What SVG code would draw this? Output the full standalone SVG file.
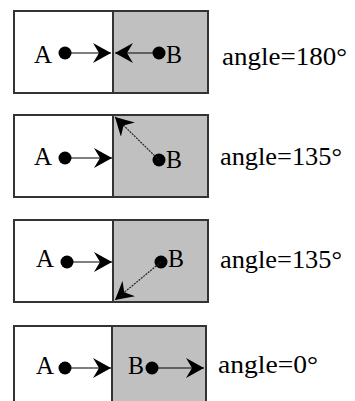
<svg xmlns="http://www.w3.org/2000/svg" width="355" height="401" viewBox="0 0 355 401">
<style>
.box{stroke:#333;stroke-width:2}
.l{fill:#fff}
.r{fill:#c0c0c0}
.t{font-family:"Liberation Serif","Times New Roman",serif;font-size:26px;fill:#000}
.dot{fill:#000}
.c{stroke:#000;stroke-width:1.2;fill:none;marker-end:url(#ah)}
.d{stroke:#222;stroke-width:1.2;stroke-dasharray:2,1;fill:none;marker-end:url(#ah)}
</style>
<defs>
<marker id="ah" viewBox="0 0 18 20" refX="18" refY="10" markerWidth="18" markerHeight="20" markerUnits="userSpaceOnUse" orient="auto">
<path d="M0,0 L18,10 L0,20 L6,10 z" fill="#000"/>
</marker>
</defs>
<g id="panel1">
<rect class="box l" x="14" y="11" width="99" height="82"/>
<rect class="box r" x="113" y="11" width="95" height="82"/>
<text class="t" x="34" y="63" textLength="18" lengthAdjust="spacingAndGlyphs">A</text>
<circle class="dot" cx="65" cy="53" r="6.5"/>
<text class="t" x="166" y="63" textLength="16" lengthAdjust="spacingAndGlyphs">B</text>
<circle class="dot" cx="159" cy="53" r="6.5"/>
<text class="t" x="222" y="65" textLength="125" lengthAdjust="spacingAndGlyphs">angle=180°</text>
</g>
<g id="panel2">
<rect class="box l" x="14" y="115" width="99" height="82"/>
<rect class="box r" x="113" y="115" width="95" height="82"/>
<text class="t" x="34" y="165" textLength="18" lengthAdjust="spacingAndGlyphs">A</text>
<circle class="dot" cx="65" cy="158" r="6.5"/>
<text class="t" x="166" y="168" textLength="16" lengthAdjust="spacingAndGlyphs">B</text>
<circle class="dot" cx="159" cy="160" r="6.5"/>
<text class="t" x="220" y="165" textLength="122" lengthAdjust="spacingAndGlyphs">angle=135°</text>
</g>
<g id="panel3">
<rect class="box l" x="14" y="220" width="99" height="82"/>
<rect class="box r" x="113" y="220" width="95" height="82"/>
<text class="t" x="36" y="267" textLength="18" lengthAdjust="spacingAndGlyphs">A</text>
<circle class="dot" cx="67" cy="262" r="6.5"/>
<text class="t" x="168" y="267" textLength="16" lengthAdjust="spacingAndGlyphs">B</text>
<circle class="dot" cx="161" cy="262" r="6.5"/>
<text class="t" x="220" y="268" textLength="122" lengthAdjust="spacingAndGlyphs">angle=135°</text>
</g>
<g id="panel4">
<rect class="box l" x="14" y="326" width="98" height="90"/>
<rect class="box r" x="112" y="326" width="94" height="90"/>
<text class="t" x="36" y="374" textLength="18" lengthAdjust="spacingAndGlyphs">A</text>
<circle class="dot" cx="65" cy="368" r="6.5"/>
<text class="t" x="128" y="374" textLength="16" lengthAdjust="spacingAndGlyphs">B</text>
<circle class="dot" cx="152" cy="368" r="6.5"/>
<text class="t" x="218" y="373" textLength="100" lengthAdjust="spacingAndGlyphs">angle=0°</text>
</g>
<g id="connectors">
<path class="c" d="M65,53 H111"/>
<path class="c" d="M159,53 H115"/>
<path class="c" d="M65,158 H112"/>
<path class="d" d="M159,160 L115,117"/>
<path class="c" d="M67,262 H112"/>
<path class="d" d="M161,262 L115,300"/>
<path class="c" d="M65,368 H111"/>
<path class="c" d="M152,368 H204"/>
</g>
</svg>
